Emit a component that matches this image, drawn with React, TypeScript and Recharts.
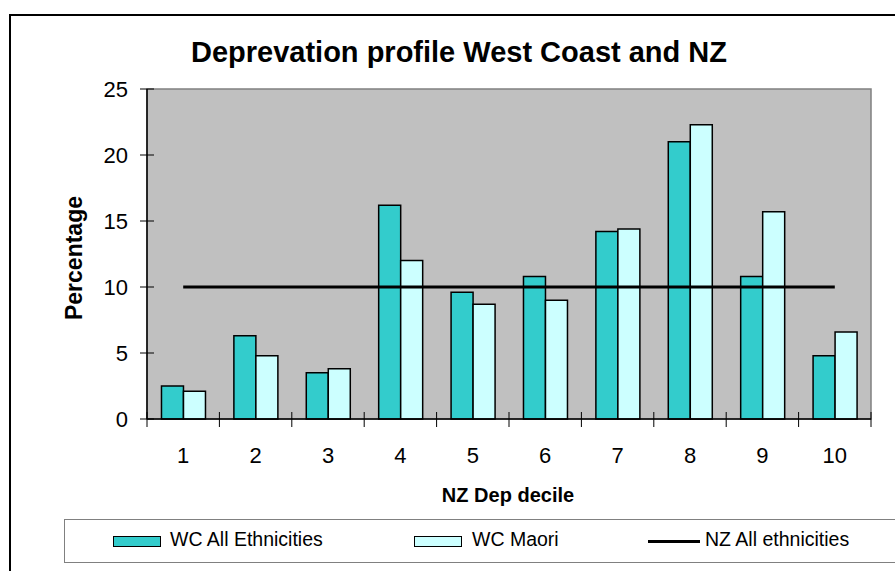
import React from 'react'
import {
  ComposedChart, Bar, Line, XAxis, YAxis, ReferenceArea,
} from 'recharts'

const deciles = ['1', '2', '3', '4', '5', '6', '7', '8', '9', '10']
const wcAll = [2.5, 6.3, 3.5, 16.2, 9.6, 10.8, 14.2, 21.0, 10.8, 4.8]
const wcMaori = [2.1, 4.8, 3.8, 12.0, 8.7, 9.0, 14.4, 22.3, 15.7, 6.6]
const nzAll = [10, 10, 10, 10, 10, 10, 10, 10, 10, 10]
const yTicks = [0, 5, 10, 15, 20, 25]

const TEAL = '#33CCCC'
const PALE = '#CCFFFF'
const FONT = '"Liberation Sans", Arial, sans-serif'

const PLOT_W = 724
const BAND = PLOT_W / deciles.length

const data = deciles.map((d, i) => ({
  decile: d,
  'WC All Ethnicities': wcAll[i],
  'WC Maori': wcMaori[i],
  'NZ All ethnicities': nzAll[i],
}))

function XTick(props: any) {
  const { x, y, payload, index } = props
  return (
    <g>
      <line x1={x - BAND / 2} x2={x - BAND / 2} y1={y - 7} y2={y + 8} stroke="#000" strokeWidth={1} />
      {index === deciles.length - 1 && (
        <line x1={x + BAND / 2} x2={x + BAND / 2} y1={y - 7} y2={y + 8} stroke="#000" strokeWidth={1} />
      )}
      <text x={x} y={y + 44} textAnchor="middle" fontSize={22} fontFamily={FONT} fill="#000">
        {payload.value}
      </text>
    </g>
  )
}

function YTick(props: any) {
  const { x, y, payload } = props
  return (
    <g>
      <line x1={x - 7} x2={x + 7} y1={y} y2={y} stroke="#000" strokeWidth={1} />
      <text x={x - 19} y={y + 8} textAnchor="end" fontSize={22} fontFamily={FONT} fill="#000">
        {payload.value}
      </text>
    </g>
  )
}

export default function App() {
  return (
    <div style={{ position: 'absolute', left: 0, top: 0, width: 895, height: 571, overflow: 'hidden', background: '#fff', fontFamily: FONT }}>
      {/* outer chart border, cut off on right and bottom */}
      <div style={{ position: 'absolute', left: 9, top: 14, width: 920, height: 620, border: '2px solid #000' }} />

      <div style={{ position: 'absolute', left: 0, top: 38, width: 918, textAlign: 'center', fontSize: 29, fontWeight: 'bold', lineHeight: 1, whiteSpace: 'nowrap' }}>
        Deprevation profile West Coast and NZ
      </div>

      <div style={{ position: 'absolute', left: 0, top: 0 }}>
        <ComposedChart
          width={895}
          height={571}
          data={data}
          margin={{ top: 89, right: 24, bottom: 0, left: 0 }}
          barCategoryGap="20%"
          barGap={0}
        >
          <ReferenceArea y1={0} y2={25} fill="#C0C0C0" fillOpacity={1} stroke="#808080" strokeWidth={1.5} />
          <XAxis
            dataKey="decile"
            height={152}
            axisLine={{ stroke: '#000', strokeWidth: 1.5 }}
            tickLine={false}
            tickSize={0}
            tickMargin={0}
            interval={0}
            tick={<XTick />}
            label={{
              content: (p: any) => {
                const vb = p.viewBox
                return (
                  <text x={vb.x + vb.width / 2 - 1} y={vb.y + 83} textAnchor="middle" fontSize={20} fontWeight="bold" fontFamily={FONT} fill="#000">
                    NZ Dep decile
                  </text>
                )
              },
            }}
          />
          <YAxis
            width={147}
            domain={[0, 25]}
            ticks={yTicks}
            axisLine={{ stroke: '#000', strokeWidth: 1.5 }}
            tickLine={false}
            tickSize={0}
            tickMargin={0}
            tick={<YTick />}
            label={{
              content: (p: any) => {
                const vb = p.viewBox
                const cx = 82
                const cy = vb.y + vb.height / 2 + 4
                return (
                  <text x={cx} y={cy} transform={`rotate(-90, ${cx}, ${cy})`} textAnchor="middle" fontSize={23} fontWeight="bold" fontFamily={FONT} fill="#000">
                    Percentage
                  </text>
                )
              },
            }}
          />
          <Bar dataKey="WC All Ethnicities" fill={TEAL} stroke="#000" strokeWidth={1.5} isAnimationActive={false} />
          <Bar dataKey="WC Maori" fill={PALE} stroke="#000" strokeWidth={1.5} isAnimationActive={false} />
          <Line dataKey="NZ All ethnicities" stroke="#000" strokeWidth={3} dot={false} activeDot={false} isAnimationActive={false} />
        </ComposedChart>
      </div>

      {/* legend */}
      <div style={{ position: 'absolute', left: 64, top: 519, width: 900, height: 42, border: '1.5px solid #808080', borderRight: 'none' }} />
      <div style={{ position: 'absolute', left: 113, top: 536, width: 46, height: 9, background: TEAL, border: '1.5px solid #000' }} />
      <div style={{ position: 'absolute', left: 170, top: 530, fontSize: 19.5, lineHeight: 1, whiteSpace: 'nowrap' }}>WC All Ethnicities</div>
      <div style={{ position: 'absolute', left: 414, top: 536, width: 46, height: 9, background: PALE, border: '1.5px solid #000' }} />
      <div style={{ position: 'absolute', left: 472, top: 530, fontSize: 19.5, lineHeight: 1, whiteSpace: 'nowrap' }}>WC Maori</div>
      <div style={{ position: 'absolute', left: 648, top: 539.5, width: 52, height: 3, background: '#000' }} />
      <div style={{ position: 'absolute', left: 705, top: 530, fontSize: 19.5, lineHeight: 1, whiteSpace: 'nowrap' }}>NZ All ethnicities</div>
    </div>
  )
}
